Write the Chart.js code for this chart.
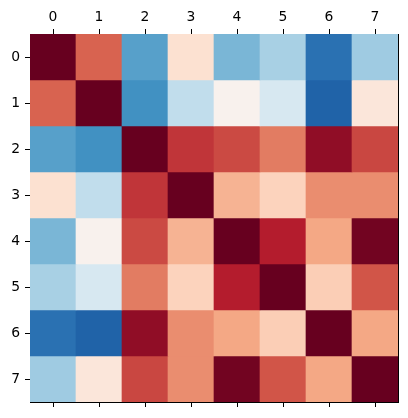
<!DOCTYPE html>
<html>
<head>
<meta charset="utf-8">
<script src="https://cdn.jsdelivr.net/npm/chart.js@4/dist/chart.umd.min.js"></script>
<style>
  html, body { margin: 0; padding: 0; background: #fff; }
</style>
</head>
<body>
<canvas id="heatmap" width="408" height="418"></canvas>
<script>
// axis labels (same for rows and columns)
const labels = ['0', '1', '2', '3', '4', '5', '6', '7'];

// correlation values, one array per row
const row0 = [1.00, 0.59, -0.55, 0.16, -0.46, -0.33, -0.75, -0.36];
const row1 = [0.59, 1.00, -0.61, -0.25, 0.04, -0.17, -0.81, 0.12];
const row2 = [-0.55, -0.61, 1.00, 0.72, 0.66, 0.52, 0.89, 0.67];
const row3 = [0.16, -0.25, 0.72, 1.00, 0.35, 0.23, 0.47, 0.47];
const row4 = [-0.46, 0.04, 0.66, 0.35, 1.00, 0.79, 0.39, 0.97];
const row5 = [-0.33, -0.17, 0.52, 0.23, 0.79, 1.00, 0.25, 0.63];
const row6 = [-0.75, -0.81, 0.89, 0.47, 0.39, 0.25, 1.00, 0.39];
const row7 = [-0.36, 0.12, 0.67, 0.47, 0.97, 0.63, 0.39, 1.00];
const rows = [row0, row1, row2, row3, row4, row5, row6, row7];

// colour scale limits
const vmin = -1;
const vmax = 1;

// RdBu_r colormap stops
const rdbuR = ['#053061', '#2166ac', '#4393c3', '#92c5de', '#d1e5f0', '#f7f7f7',
               '#fddbc7', '#f4a582', '#d6604d', '#b2182b', '#67001f'];

function hexToRgb(h) {
    return [1, 3, 5].map(i => parseInt(h.substr(i, 2), 16));
}

function cmap(v) {
    let t = (v - vmin) / (vmax - vmin);
    t = Math.max(0, Math.min(1, t));
    const pos = t * (rdbuR.length - 1);
    const i = Math.min(Math.floor(pos), rdbuR.length - 2);
    const f = pos - i;
    const a = hexToRgb(rdbuR[i]);
    const b = hexToRgb(rdbuR[i + 1]);
    const c = a.map((x, k) => Math.round(x + (b[k] - x) * f));
    return 'rgb(' + c.join(',') + ')';
}

const tickFont = { family: 'DejaVu Sans', size: 13.9 };

// each row is one dataset of floating bars spanning [r, r+1]
const datasets = rows.map((vals, r) => ({
    label: 'row ' + r,
    data: vals.map(() => [r, r + 1]),
    backgroundColor: vals.map(cmap),
    borderWidth: 0,
    barPercentage: 1,
    categoryPercentage: 1,
    grouped: false,
    xAxisID: 'x',
    yAxisID: 'y'
}));

new Chart(document.getElementById('heatmap').getContext('2d'), {
    type: 'bar',
    data: { labels: labels, datasets: datasets },
    options: {
        responsive: false,
        animation: false,
        layout: { padding: 0 },
        plugins: { legend: { display: false }, tooltip: { enabled: false } },
        scales: {
            x: {
                type: 'category',
                position: 'top',
                offset: true,
                grid: { offset: false, drawOnChartArea: false, tickLength: 5, tickColor: '#000', tickWidth: 1 },
                border: { color: '#000', width: 1 },
                ticks: { color: '#000', font: tickFont, padding: 3, maxRotation: 0 },
                afterFit: s => { s.height = 34; }
            },
            x2: {
                type: 'category',
                position: 'bottom',
                labels: labels,
                offset: true,
                grid: { offset: false, drawOnChartArea: false, tickLength: 5, tickColor: '#000', tickWidth: 1 },
                border: { color: '#000', width: 1 },
                ticks: { display: false },
                afterFit: s => { s.height = 16; }
            },
            y: {
                type: 'linear',
                position: 'left',
                reverse: true,
                min: 0,
                max: 8,
                grid: { drawOnChartArea: false, tickLength: 5, tickColor: '#000', tickWidth: 1 },
                border: { color: '#000', width: 1 },
                ticks: { color: '#000', font: tickFont, padding: 5, callback: (v, i) => labels[i] },
                afterBuildTicks: s => { s.ticks = labels.map((l, i) => ({ value: i + 0.5 })); },
                afterFit: s => { s.width = 30; }
            },
            y2: {
                type: 'linear',
                position: 'right',
                min: 0,
                max: 8,
                grid: { display: false },
                border: { color: '#000', width: 1 },
                ticks: { display: false },
                afterFit: s => { s.width = 10; }
            }
        }
    }
});
</script>
</body>
</html>
